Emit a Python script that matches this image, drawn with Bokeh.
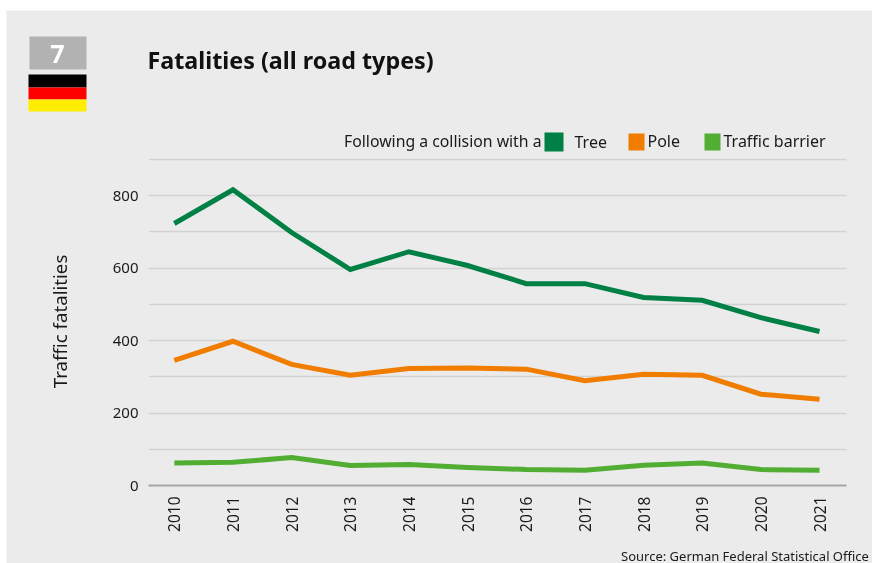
from bokeh.plotting import figure
from bokeh.models import Label, BoxAnnotation, FixedTicker, Range1d
from bokeh.embed import file_html
from bokeh.resources import INLINE

years = [2010, 2011, 2012, 2013, 2014, 2015, 2016, 2017, 2018, 2019, 2020, 2021]
tree = [723, 816, 698, 596, 645, 607, 557, 557, 519, 511, 463, 425]
pole = [345, 398, 334, 304, 323, 324, 321, 289, 307, 304, 252, 238]
barrier = [62, 64, 77, 55, 58, 50, 44, 42, 56, 62, 44, 42]

title_text = "Fatalities (all road types)"
y_title = "Traffic fatalities"
legend_lead = "Following a collision with a"
source_text = "Source: German Federal Statistical Office"
GREEN, ORANGE, LIME = "#008045", "#f07d00", "#52ae32"
BG = "#ebebeb"
FONT = "Noto Sans"
OX, OY = 6, 10   # canvas origin on the page
fixed = {"position": "fixed", "left": f"{OX}px", "top": f"{OY}px"}

# Backing figure: its frame is the whole canvas, so header, legend and source are not clipped.
bg = figure(width=866, height=553, output_backend="svg", toolbar_location=None,
            x_range=Range1d(0, 866), y_range=Range1d(553, 0),
            x_axis_location=None, y_axis_location=None,
            min_border=0, background_fill_color=BG, border_fill_color=BG,
            outline_line_color=None, styles=fixed)
bg.grid.visible = False

# Chart figure on top, transparent.
p = figure(width=866, height=553, output_backend="svg", toolbar_location=None,
           x_range=Range1d(2009.56, 2021.46), y_range=Range1d(0, 905),
           min_border_left=142, min_border_right=26, min_border_top=147, min_border_bottom=78,
           background_fill_color=None, border_fill_color=None, outline_line_color=None,
           styles=fixed)

p.xgrid.visible = False
p.ygrid.ticker = FixedTicker(ticks=list(range(100, 1000, 100)))
p.ygrid.grid_line_color = "#d2d2d2"
p.ygrid.grid_line_width = 1.5

p.xaxis.ticker = FixedTicker(ticks=years)
p.xaxis.major_label_orientation = 1.5708
p.xaxis.major_label_text_font = FONT
p.xaxis.major_label_text_font_size = "15.5px"
p.xaxis.major_label_text_color = "#1a1a1a"
p.xaxis.major_label_standoff = 5
p.xaxis.axis_line_color = "#a6a6a6"
p.xaxis.axis_line_width = 2
p.xaxis.major_tick_line_color = None
p.xaxis.minor_tick_line_color = None

p.yaxis.ticker = FixedTicker(ticks=[0, 200, 400, 600, 800])
p.yaxis.major_label_text_font = FONT
p.yaxis.major_label_text_font_size = "15px"
p.yaxis.major_label_text_color = "#1a1a1a"
p.yaxis.major_label_standoff = 4
p.yaxis.axis_line_color = None
p.yaxis.major_tick_line_color = None
p.yaxis.minor_tick_line_color = None
p.yaxis.axis_label = y_title
p.yaxis.axis_label_text_font = FONT
p.yaxis.axis_label_text_font_style = "normal"
p.yaxis.axis_label_text_font_size = "18.7px"
p.yaxis.axis_label_text_color = "#1a1a1a"
p.yaxis.axis_label_standoff = 38

for series, color in ((tree, GREEN), (pole, ORANGE), (barrier, LIME)):
    p.line(years, series, line_color=color, line_width=5, line_join="miter")


def box(x0, y0, x1, y1, color):
    bg.add_layout(BoxAnnotation(left=x0 - OX, right=x1 - OX, top=y0 - OY, bottom=y1 - OY,
                                left_units="canvas", right_units="canvas",
                                top_units="canvas", bottom_units="canvas",
                                fill_color=color, fill_alpha=1, line_color=None))


def text(x, y, s, size, color="#1a1a1a", style="normal", align="left"):
    bg.add_layout(Label(x=x - OX, y=y - OY, x_units="canvas", y_units="canvas", text=s,
                        text_font=FONT, text_font_size=size, text_color=color,
                        text_font_style=style, text_align=align, text_baseline="middle"))


box(29, 36, 86, 69, "#b2b2b2")
box(28, 74, 86, 87, "#000000")
box(28, 87, 86, 99, "#ff0000")
box(28, 99, 86, 111, "#ffed00")
text(57, 53, "7", "25px", "#ffffff", "bold", "center")
text(147, 59, title_text, "23.3px", "#111111", "bold")
text(343.5, 140, legend_lead, "15.8px")
box(544, 132, 563, 151, GREEN)
text(574, 141, "Tree", "16px")
box(628, 133, 644, 150, ORANGE)
text(647, 140, "Pole", "16px")
box(704, 133, 720, 150, LIME)
text(723, 140, "Traffic barrier", "16px")
text(620.5, 555.5, source_text, "13px")

open("out.html", "w").write(file_html((bg, p), INLINE))
